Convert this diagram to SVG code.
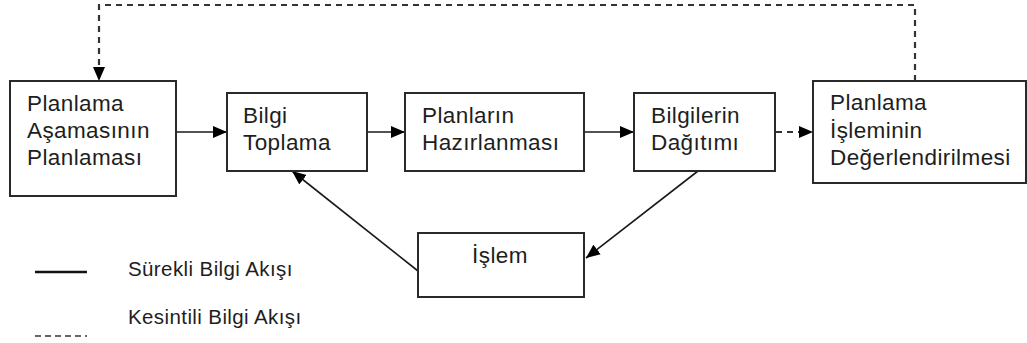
<svg xmlns="http://www.w3.org/2000/svg" width="1027" height="343" viewBox="0 0 1027 343">
  <style>
    .box { fill: #ffffff; stroke: #2a2a2a; stroke-width: 2; }
    .lbl { font-family: "Liberation Sans", Arial, sans-serif; font-size: 22.5px; letter-spacing: 0.4px; fill: #1e1e1e; }
    .leg { font-family: "Liberation Sans", Arial, sans-serif; font-size: 20.5px; letter-spacing: 0.4px; fill: #1e1e1e; }
    .solid { fill: none; stroke: #1a1a1a; stroke-width: 1.6; }
    .dash { fill: none; stroke: #333333; stroke-width: 2.2; stroke-dasharray: 6 5; }
  </style>
  <defs>
    <marker id="arrow" markerUnits="userSpaceOnUse" markerWidth="15" markerHeight="13" refX="14" refY="6.5" orient="auto">
      <path d="M0,0.5 L14,6.5 L0,12.5 Z" fill="#000000"/>
    </marker>
  </defs>

  <rect width="1027" height="343" fill="#ffffff"/>

  <!-- connectors -->
  <g id="connectors">
    <line class="solid" x1="176" y1="132" x2="227" y2="132" marker-end="url(#arrow)"/>
    <line class="solid" x1="367" y1="132" x2="405" y2="132" marker-end="url(#arrow)"/>
    <line class="solid" x1="584" y1="132" x2="634" y2="132" marker-end="url(#arrow)"/>
    <line class="dash" x1="776" y1="132" x2="800" y2="132"/>
    <path d="M799,132 L813,132" class="solid" marker-end="url(#arrow)" stroke-opacity="0"/>
    <polyline class="dash" points="915,81 915,5 99,5 99,67"/>
    <path d="M99,67 L99,81" class="solid" marker-end="url(#arrow)" stroke-opacity="0"/>
    <line class="solid" x1="698" y1="171" x2="586" y2="258" marker-end="url(#arrow)"/>
    <line class="solid" x1="418" y1="271" x2="292" y2="171" marker-end="url(#arrow)"/>
  </g>

  <g id="node-planlama-asamasi">
    <rect class="box" x="10" y="81" width="166" height="115"/>
    <text class="lbl" x="27" y="111">Planlama</text>
    <text class="lbl" x="27" y="138">Aşamasının</text>
    <text class="lbl" x="27" y="165">Planlaması</text>
  </g>

  <g id="node-bilgi-toplama">
    <rect class="box" x="227" y="93" width="140" height="78"/>
    <text class="lbl" x="243" y="123">Bilgi</text>
    <text class="lbl" x="243" y="150">Toplama</text>
  </g>

  <g id="node-planlarin-hazirlanmasi">
    <rect class="box" x="405" y="93" width="179" height="78"/>
    <text class="lbl" x="422" y="123">Planların</text>
    <text class="lbl" x="422" y="150">Hazırlanması</text>
  </g>

  <g id="node-bilgilerin-dagitimi">
    <rect class="box" x="634" y="93" width="141" height="78"/>
    <text class="lbl" x="651" y="123">Bilgilerin</text>
    <text class="lbl" x="651" y="150">Dağıtımı</text>
  </g>

  <g id="node-degerlendirme">
    <rect class="box" x="813" y="81" width="213" height="102"/>
    <text class="lbl" x="830" y="110">Planlama</text>
    <text class="lbl" x="830" y="138">İşleminin</text>
    <text class="lbl" x="830" y="165">Değerlendirilmesi</text>
  </g>

  <g id="node-islem">
    <rect class="box" x="418" y="233" width="166" height="64"/>
    <text class="lbl" x="500" y="263" text-anchor="middle">İşlem</text>
  </g>

  <!-- legend -->
  <g id="legend">
    <line x1="35" y1="272" x2="87" y2="272" stroke="#111111" stroke-width="2.6"/>
    <text class="leg" x="128" y="276">Sürekli Bilgi Akışı</text>
    <line x1="35" y1="336" x2="87" y2="336" stroke="#666666" stroke-width="2" stroke-dasharray="6 4"/>
    <text class="leg" x="128" y="324">Kesintili Bilgi Akışı</text>
  </g>
</svg>
